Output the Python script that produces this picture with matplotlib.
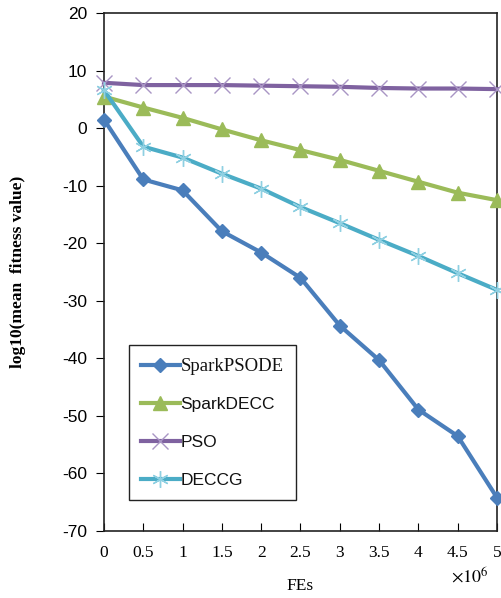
import matplotlib.pyplot as plt
from matplotlib.lines import Line2D

# FEs (x 10^6)
fes = [0, 0.5, 1, 1.5, 2, 2.5, 3, 3.5, 4, 4.5, 5]

# log10(mean fitness value)
spark_psode = [1.5, -8.9, -10.8, -17.9, -21.6, -26.0, -34.3, -40.3, -48.9, -53.5, -64.2]
spark_decc = [5.5, 3.6, 1.8, -0.2, -2.1, -3.8, -5.5, -7.4, -9.3, -11.2, -12.5]
pso = [7.9, 7.5, 7.5, 7.5, 7.4, 7.3, 7.2, 7.0, 6.9, 6.9, 6.8]
deccg = [6.6, -3.2, -5.1, -7.9, -10.5, -13.7, -16.5, -19.4, -22.2, -25.2, -28.1]

x_ticks = [0, 0.5, 1, 1.5, 2, 2.5, 3, 3.5, 4, 4.5, 5]
y_ticks = [-70, -60, -50, -40, -30, -20, -10, 0, 10, 20]

serif = 'Liberation Serif'
sans = 'Liberation Sans'
plt.rcParams['mathtext.fontset'] = 'stix'

fig = plt.figure(figsize=(5.01, 5.98), dpi=100)
ax = fig.add_axes([0.2076, 0.112, 0.7844, 0.866])

ax.plot(fes, spark_psode, color='#4A7EBB', lw=3, marker='D', ms=7,
        clip_on=False, zorder=5)
ax.plot(fes, spark_decc, color='#9BBB59', lw=3, marker='^', ms=10,
        clip_on=False, zorder=4)
ax.plot(fes, pso, color='#7F62A0', lw=3, marker='x', ms=11, mew=1,
        mec='#A995C4', clip_on=False, zorder=3)
ax.plot(fes, deccg, color='#4BACC6', lw=3, marker=(6, 2, 0), ms=12, mew=1,
        mec='#8FD0E2', clip_on=False, zorder=4)

ax.set_xlim(0, 5)
ax.set_ylim(-70, 20)
ax.set_xticks(x_ticks)
ax.set_xticklabels([f'{t:g}' for t in x_ticks], fontfamily=serif, fontsize=12.5)
ax.set_yticks(y_ticks)
ax.set_yticklabels([str(t) for t in y_ticks], fontfamily=sans, fontsize=12.5)
ax.tick_params(axis='x', direction='in', length=6, pad=10)
ax.tick_params(axis='y', direction='out', length=6, pad=6)
for s in ax.spines.values():
    s.set_linewidth(1.2)
    s.set_color('#222222')

ax.set_xlabel('FEs', fontfamily=serif, fontsize=12.5, labelpad=12)
ax.set_ylabel('log10(mean  fitness value)', fontfamily=serif, fontsize=12.5,
              fontweight='bold', labelpad=26)
fig.text(0.937, 0.02, r'$\times10^{6}$', fontsize=13,
         ha='center', va='bottom')

handles = [
    Line2D([], [], color='#4A7EBB', lw=3, marker='D', ms=7),
    Line2D([], [], color='#9BBB59', lw=3, marker='^', ms=10),
    Line2D([], [], color='#7F62A0', lw=3, marker='x', ms=11, mew=1, mec='#A995C4'),
    Line2D([], [], color='#4BACC6', lw=3, marker=(6, 2, 0), ms=12, mew=1, mec='#8FD0E2'),
]
labels = ['SparkPSODE', 'SparkDECC', 'PSO', 'DECCG']
leg = ax.legend(handles, labels, loc='lower left', bbox_to_anchor=(0.064, 0.06),
                borderaxespad=0, fancybox=False, edgecolor='#222222',
                framealpha=1, handlelength=2.2, handletextpad=0.05,
                labelspacing=1.3, borderpad=0.7,
                prop={'family': sans, 'size': 12.5})
leg.get_frame().set_linewidth(1.0)
leg.get_texts()[0].set_fontfamily(serif)
leg.get_texts()[0].set_fontsize(13.5)
for t in leg.get_texts():
    t.set_color('#111111')

fig.savefig('out.png', dpi=100)
